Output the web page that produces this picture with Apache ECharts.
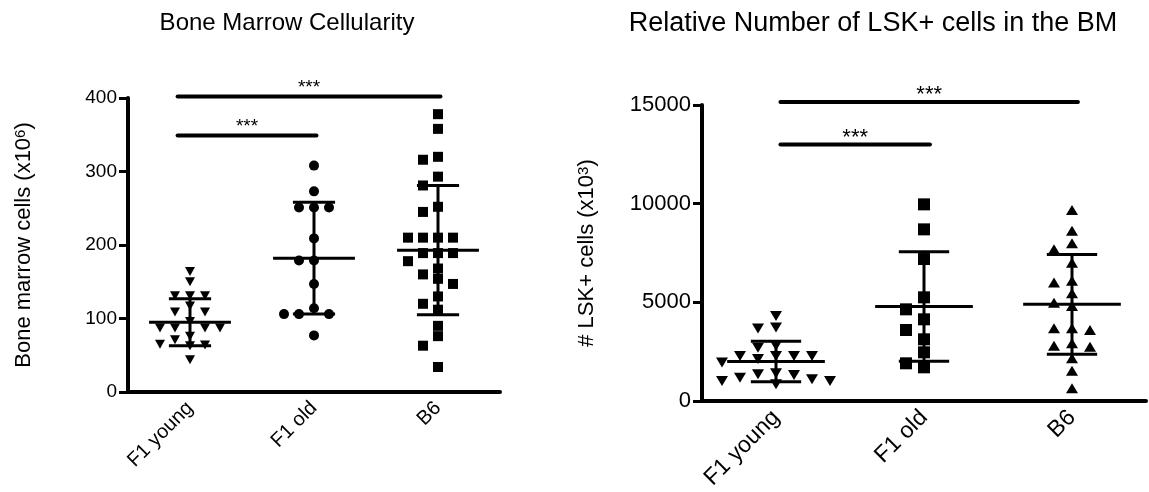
<!DOCTYPE html>
<html>
<head>
<meta charset="utf-8">
<title>Bone Marrow / LSK+</title>
<script src="https://cdn.jsdelivr.net/npm/echarts@6.0.0/dist/echarts.min.js"></script>
<style>
html, body { margin: 0; padding: 0; background: #fff; }
#main { width: 1149px; height: 492px; }
</style>
</head>
<body>
<div id="main"></div>
<script>
var categories = ['F1 young', 'F1 old', 'B6'];

// 左图: 骨髓细胞数 (x10^6)
var bmTicks = [0, 100, 200, 300, 400];
var bmYoung = [164, 150, 131, 131, 131, 117, 109, 109, 96, 87, 87, 87, 87, 76, 71, 64, 63, 65, 44];
var bmOld = [308, 273, 251, 251, 251, 209, 179, 179, 147, 114, 106, 106, 106, 77];
var bmB6 = [378, 358, 320, 316, 293, 281, 252, 245, 210, 210, 210, 210, 189, 189, 189, 178, 168, 160, 154, 147, 130, 120, 112, 90, 76, 63, 34];
var bmMean = [95, 182, 193];
var bmSD = [32, 76, 88];
var bmSigFrom = [0, 0];
var bmSigTo = [1, 2];
var bmSigY = [349, 402];

// 右图: LSK+ 细胞数 (x10^3)
var lskTicks = [0, 5000, 10000, 15000];
var lskYoung = [4306, 3730, 3680, 2800, 2700, 2280, 2280, 2280, 2280, 2130, 1950, 1400, 1350, 1320, 1180, 1100, 1013, 1013, 846];
var lskOld = [9965, 8698, 7194, 5253, 4645, 4139, 3597, 3126, 2467, 1910, 1707];
var lskB6 = [9676, 8628, 7989, 7685, 7006, 6095, 6010, 5456, 4980, 4813, 3683, 3683, 3597, 2923, 2801, 2751, 2163, 1535, 643];
var lskMean = [2000, 4790, 4900];
var lskSD = [1030, 2770, 2530];
var lskSigFrom = [0, 0];
var lskSigTo = [1, 2];
var lskSigY = [13000, 15150];

var font = 'Liberation Sans, Arial, Helvetica, sans-serif';
var myChart = echarts.init(document.getElementById('main'));

function catAxis(grid, fs) {
    return {
        type: 'category', gridIndex: grid, data: categories, boundaryGap: true,
        axisLine: { onZero: false, lineStyle: { color: '#000', width: 4 } },
        axisTick: { alignWithLabel: true, length: 10, lineStyle: { color: '#000', width: 3 } },
        axisLabel: { rotate: 45, interval: 0, color: '#000', fontSize: fs, fontFamily: font, margin: 13 },
        splitLine: { show: false }
    };
}
// 隐藏的数值轴, 用来放散点
function posAxis(grid) {
    return { type: 'value', gridIndex: grid, min: -0.5, max: 2.5, show: false,
        axisLine: { onZero: false }, splitLine: { show: false } };
}
function valAxis(grid, ticks, fs, name, gap, nfs) {
    return {
        type: 'value', gridIndex: grid,
        min: ticks[0], max: ticks[ticks.length - 1], interval: ticks[1] - ticks[0],
        axisLine: { show: true, onZero: false, lineStyle: { color: '#000', width: 4 } },
        axisTick: { show: true, length: 9, lineStyle: { color: '#000', width: 3 } },
        axisLabel: { color: '#000', fontSize: fs, fontFamily: font, margin: 11,
            formatter: function (v) { return String(v); } },
        splitLine: { show: false },
        name: name, nameLocation: 'middle', nameGap: gap,
        nameTextStyle: {
            color: '#000', fontSize: nfs, fontFamily: font,
            rich: { sup: { color: '#000', fontSize: Math.round(nfs * 0.68), fontFamily: font, verticalAlign: 'top' } }
        }
    };
}

// 均值 ± SD
function summarySeries(xi, yi, means, sds, lw) {
    return {
        type: 'custom', xAxisIndex: xi, yAxisIndex: yi, clip: false, z: 5, silent: true,
        encode: { x: 0, y: 1 },
        data: means.map(function (m, i) { return [i, m, sds[i]]; }),
        renderItem: function (params, api) {
            var i = api.value(0), m = api.value(1), s = api.value(2);
            function seg(x0, y0, x1, y1) {
                var a = api.coord([x0, y0]), b = api.coord([x1, y1]);
                return { type: 'line', shape: { x1: a[0], y1: a[1], x2: b[0], y2: b[1] },
                    style: { stroke: '#000', lineWidth: lw } };
            }
            return { type: 'group', children: [
                seg(i - 0.33, m, i + 0.33, m),
                seg(i - 0.17, m + s, i + 0.17, m + s),
                seg(i - 0.17, m - s, i + 0.17, m - s),
                seg(i, m - s, i, m + s)
            ] };
        }
    };
}

// 显著性横线 + ***
function sigSeries(xi, yi, from, to, ys, padL, padR, fs, up) {
    return {
        type: 'custom', xAxisIndex: xi, yAxisIndex: yi, clip: false, z: 5, silent: true,
        encode: { x: [0, 1], y: 2 },
        data: ys.map(function (y, k) { return [from[k] + padL, to[k] + padR, y]; }),
        renderItem: function (params, api) {
            var a = api.coord([api.value(0), api.value(2)]);
            var b = api.coord([api.value(1), api.value(2)]);
            return { type: 'group', children: [
                { type: 'line', shape: { x1: a[0], y1: a[1], x2: b[0], y2: b[1] },
                  style: { stroke: '#000', lineWidth: 4, lineCap: 'round' } },
                { type: 'text', x: (a[0] + b[0]) / 2, y: a[1] - up,
                  style: { text: '***', fill: '#000', font: fs + 'px ' + font, align: 'center', verticalAlign: 'middle' } }
            ] };
        }
    };
}

function scatter(xi, yi, symbol, size, rotate) {
    return { type: 'scatter', xAxisIndex: xi, yAxisIndex: yi, symbol: symbol, symbolSize: size,
        symbolRotate: rotate || 0, itemStyle: { color: '#000', opacity: 1 }, data: [], z: 4, silent: true };
}

var option = {
    animation: false,
    backgroundColor: '#fff',
    graphic: [
        { type: 'text', x: 287, y: 23, style: { text: 'Bone Marrow Cellularity', fill: '#000',
            font: '24px ' + font, align: 'center', verticalAlign: 'middle' } },
        { type: 'text', x: 873, y: 24, style: { text: 'Relative Number of LSK+ cells in the BM', fill: '#000',
            font: '27px ' + font, align: 'center', verticalAlign: 'middle' } }
    ],
    grid: [
        { left: 128, top: 98, width: 372, height: 294, outerBoundsMode: 'none' },
        { left: 702, top: 105, width: 444, height: 296, outerBoundsMode: 'none' }
    ],
    xAxis: [catAxis(0, 20), posAxis(0), catAxis(1, 23), posAxis(1)],
    yAxis: [
        valAxis(0, bmTicks, 19, 'Bone marrow cells (x10{sup|6})', 93, 22),
        valAxis(1, lskTicks, 22, '# LSK+ cells (x10{sup|3})', 104, 22)
    ],
    series: [
        scatter(1, 0, 'triangle', [10, 9], 180),
        scatter(1, 0, 'circle', 10),
        scatter(1, 0, 'rect', 10),
        summarySeries(1, 0, bmMean, bmSD, 3),
        sigSeries(1, 0, bmSigFrom, bmSigTo, bmSigY, -0.1, 0.02, 19, 9),
        scatter(3, 1, 'triangle', [12, 10], 180),
        scatter(3, 1, 'rect', 12),
        scatter(3, 1, 'triangle', [12, 10]),
        summarySeries(3, 1, lskMean, lskSD, 3),
        sigSeries(3, 1, lskSigFrom, lskSigTo, lskSigY, 0.03, 0.04, 22, 7)
    ]
};
myChart.setOption(option);

// 简单的 beeswarm 排布, 用坐标轴换算像素避免重叠
function swarm(values, idx, xi, yi, w, h) {
    var placed = [];
    var unit = myChart.convertToPixel({ xAxisIndex: xi }, 1) - myChart.convertToPixel({ xAxisIndex: xi }, 0);
    var hs = w * 0.75;
    return values.map(function (v) {
        var py = myChart.convertToPixel({ yAxisIndex: yi }, v);
        for (var k = 0; k < 40; k++) {
            var off = k === 0 ? 0 : (k % 2 ? -1 : 1) * Math.ceil(k / 2) * hs;
            var hit = placed.some(function (p) {
                return Math.abs(p[0] - off) < w * 1.4 && Math.abs(p[1] - py) < h;
            });
            if (!hit) { placed.push([off, py]); return [idx + off / unit, v]; }
        }
        return [idx, v];
    });
}

myChart.setOption({
    series: [
        { data: swarm(bmYoung, 0, 1, 0, 10, 9) },
        { data: swarm(bmOld, 1, 1, 0, 10, 10) },
        { data: swarm(bmB6, 2, 1, 0, 10, 10) },
        {}, {},
        { data: swarm(lskYoung, 0, 3, 1, 12, 10) },
        { data: swarm(lskOld, 1, 3, 1, 12, 12) },
        { data: swarm(lskB6, 2, 3, 1, 12, 10) },
        {}, {}
    ]
});
</script>
</body>
</html>
